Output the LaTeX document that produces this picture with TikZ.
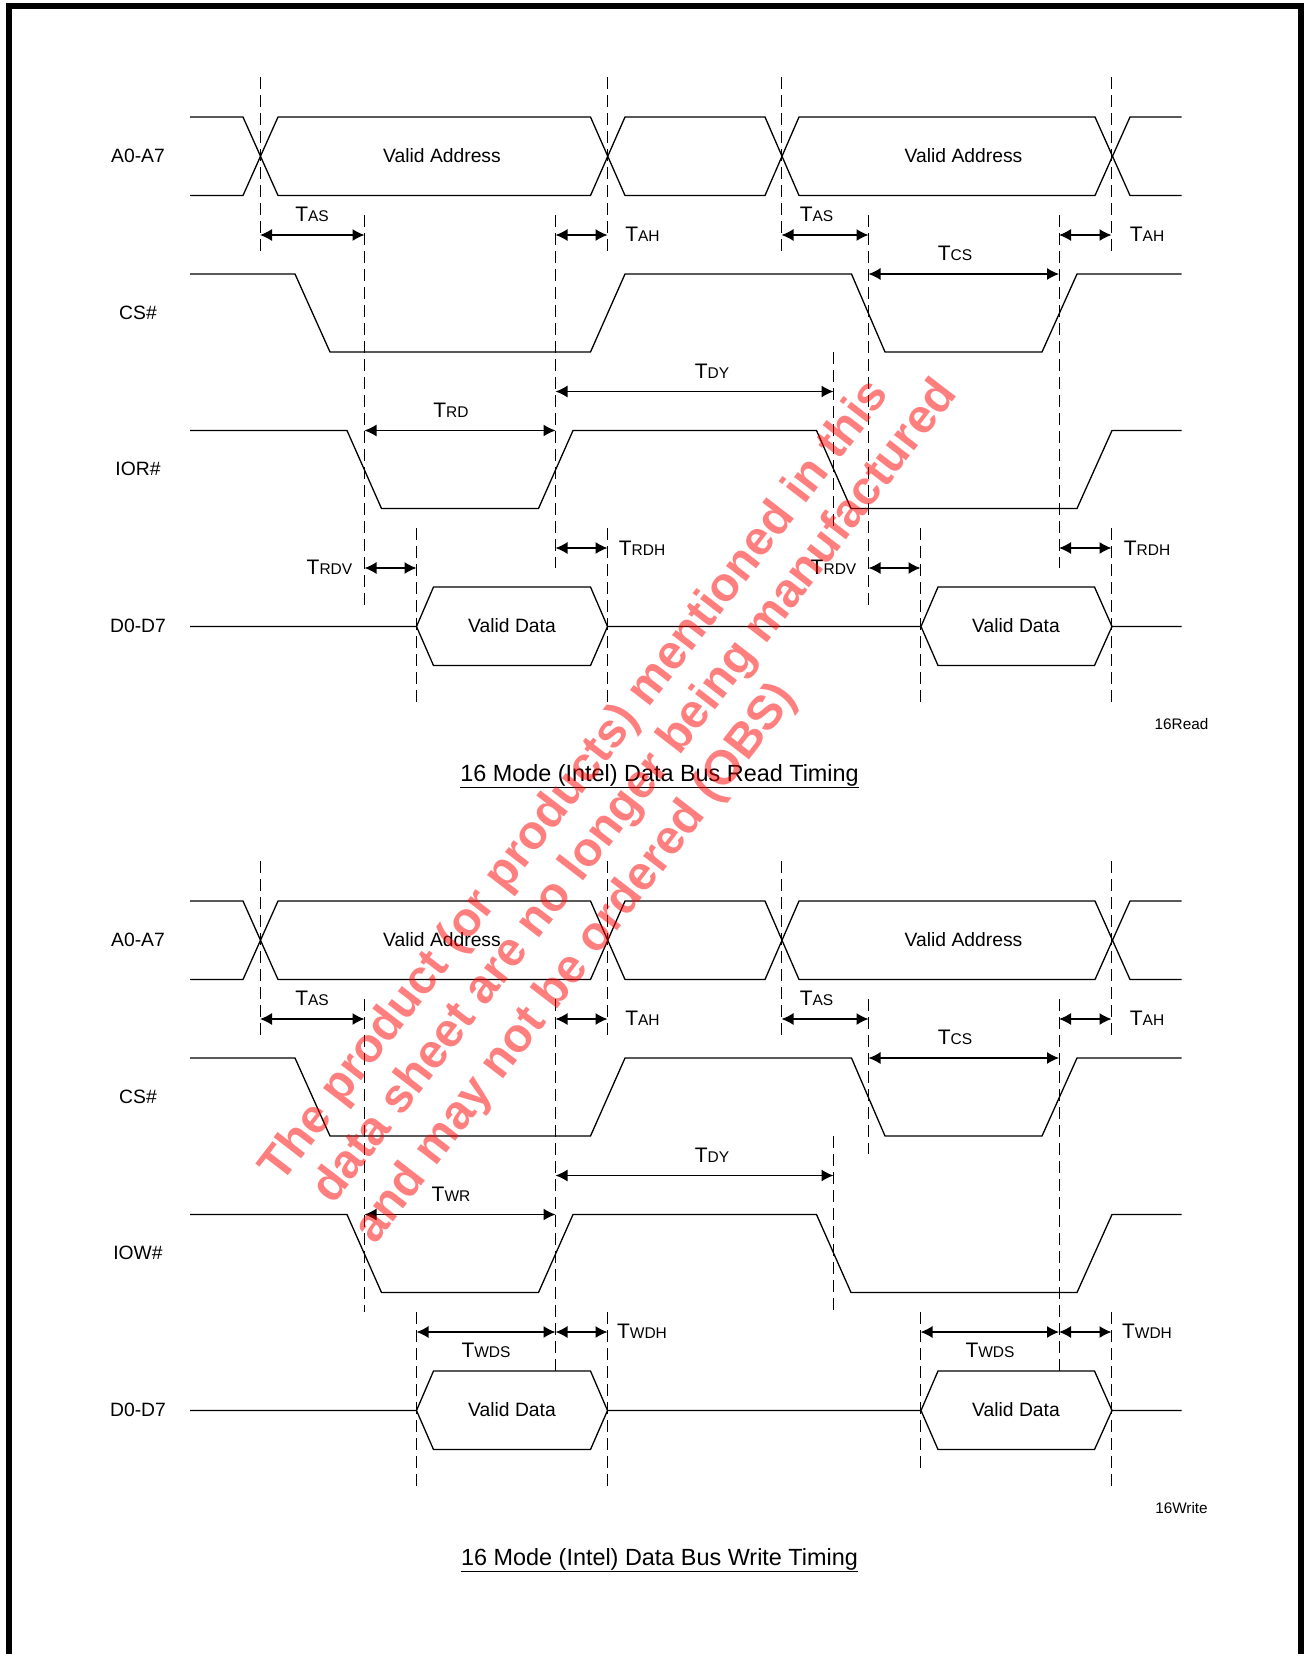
\documentclass[tikz,border=0pt]{standalone}
\usepackage{fontspec}
\setmainfont{Liberation Sans}
\usetikzlibrary{arrows.meta}
\newcommand{\Tsub}[1]{T{\fontsize{15.5}{15.5}\selectfont #1}}
\tikzset{
  wave/.style={line width=1.3pt, line join=miter},
  guide/.style={line width=1pt, dash pattern=on 12pt off 6pt},
  span/.style={line width=1.3pt, {Latex[length=12pt,width=12pt]}-{Latex[length=12pt,width=12pt]}},
  sig/.style={font=\fontsize{19.3}{19.3}\selectfont},
  tim/.style={font=\fontsize{21}{21}\selectfont},
  ttl/.style={font=\fontsize{23.4}{23.4}\selectfont},
  tag/.style={font=\fontsize{15.3}{15.3}\selectfont},
  frm/.style={fill=black},
  obs/.style={rotate=52.4, text=red, text opacity=0.5, font=\fontsize{47.9}{60}\selectfont\bfseries}
}
\begin{document}
\begin{tikzpicture}[x=1pt, y=-1pt]
      \useasboundingbox (0,0) rectangle (1304,1654);
      \fill[frm] (6,3) rectangle (12,1654);
      \fill[frm] (6,3) rectangle (1304,9);
      \fill[frm] (1298,3) rectangle (1304,1654);
      %
      % read timing
      \draw[wave] (190,117) -- (243,117) -- (278,195.5) -- (590.5,195.5) -- (625,117) -- (765,117) -- (799,195.5) -- (1095,195.5) -- (1130,117) -- (1181.5,117);
      \draw[wave] (190,195.5) -- (243,195.5) -- (278,117) -- (590.5,117) -- (625,195.5) -- (765,195.5) -- (799,117) -- (1095,117) -- (1130,195.5) -- (1181.5,195.5);
      \draw[wave] (190,274) -- (295,274) -- (330,352) -- (590.5,352) -- (625,274) -- (851.5,274) -- (885,352) -- (1042,352) -- (1077,274) -- (1181.5,274);
      \draw[wave] (190,430.5) -- (347,430.5) -- (381.5,508.5) -- (538.5,508.5) -- (573,430.5) -- (816.5,430.5) -- (851,508.5) -- (1077,508.5) -- (1112,430.5) -- (1181.5,430.5);
      \draw[wave] (190,626.5) -- (416.5,626.5) -- (433.5,587) -- (590.5,587) -- (607.5,626.5) -- (921,626.5) -- (938,587) -- (1094.5,587) -- (1112,626.5) -- (1181.5,626.5);
      \draw[wave] (416.5,626.5) -- (433.5,665.5) -- (590.5,665.5) -- (607.5,626.5);
      \draw[wave] (921,626.5) -- (938,665.5) -- (1094.5,665.5) -- (1112,626.5);
      %
      \draw[guide] (260,77) -- (260,254);
      \draw[guide] (607.5,77) -- (607.5,254);
      \draw[guide] (781.5,77) -- (781.5,254);
      \draw[guide] (1111.5,77) -- (1111.5,254);
      \draw[guide] (364.5,215) -- (364.5,607.5);
      \draw[guide] (555.5,215) -- (555.5,568);
      \draw[guide] (868.5,215) -- (868.5,607.5);
      \draw[guide] (1059,215) -- (1059,568);
      \draw[guide] (833.5,352) -- (833.5,528);
      \draw[guide] (416.5,528) -- (416.5,704);
      \draw[guide] (607.5,528) -- (607.5,704);
      \draw[guide] (920.5,528) -- (920.5,704);
      \draw[guide] (1111.5,528) -- (1111.5,704);
      %
      \draw[span] (260,235) -- (364.5,235);
      \draw[span] (555.5,235) -- (607.5,235);
      \draw[span] (781.5,235) -- (868.5,235);
      \draw[span] (1059,235) -- (1111.5,235);
      \draw[span] (868.5,274) -- (1059,274);
      \draw[span] (555.5,391.5) -- (833.5,391.5);
      \draw[span] (364.5,430.5) -- (555.5,430.5);
      \draw[span] (364.5,568) -- (416.5,568);
      \draw[span] (555.5,548) -- (607.5,548);
      \draw[span] (868.5,568) -- (920.5,568);
      \draw[span] (1059,548) -- (1111.5,548);
      %
      \draw(138,156) node[sig](addrR){A0-A7};
      \draw(138,313) node[sig](csR){CS\#};
      \draw(138,468.5) node[sig](iorR){IOR\#};
      \draw(138,626) node[sig](dataR){D0-D7};
      \draw(442,156) node[sig](vaRa){Valid Address};
      \draw(963.5,156) node[sig](vaRb){Valid Address};
      \draw(512,626) node[sig](vdRa){Valid Data};
      \draw(1016,626) node[sig](vdRb){Valid Data};
      %
      \draw(312,214.5) node[tim](tasRa){\Tsub{AS}};
      \draw(642.5,234) node[tim](tahRa){\Tsub{AH}};
      \draw(816.5,214.5) node[tim](tasRb){\Tsub{AS}};
      \draw(1147,234) node[tim](tahRb){\Tsub{AH}};
      \draw(955,253.5) node[tim](tcsR){\Tsub{CS}};
      \draw(712,371.5) node[tim](tdyR){\Tsub{DY}};
      \draw(451,410.5) node[tim](trd){\Tsub{RD}};
      \draw(329.5,567) node[tim](trdva){\Tsub{RDV}};
      \draw(642,548) node[tim](trdha){\Tsub{RDH}};
      \draw(833.5,567) node[tim](trdvb){\Tsub{RDV}};
      \draw(1147,548) node[tim](trdhb){\Tsub{RDH}};
      %
      \draw(1181.5,724) node[tag](tagR){16Read};
      \draw(659.5,776) node[ttl](ttlR){\underline{16 Mode (Intel) Data Bus Read Timing}};
      %
      % write timing
      \begin{scope}[yshift=-784pt]
      \draw[wave] (190,117) -- (243,117) -- (278,195.5) -- (590.5,195.5) -- (625,117) -- (765,117) -- (799,195.5) -- (1095,195.5) -- (1130,117) -- (1181.5,117);
      \draw[wave] (190,195.5) -- (243,195.5) -- (278,117) -- (590.5,117) -- (625,195.5) -- (765,195.5) -- (799,117) -- (1095,117) -- (1130,195.5) -- (1181.5,195.5);
      \draw[wave] (190,274) -- (295,274) -- (330,352) -- (590.5,352) -- (625,274) -- (851.5,274) -- (885,352) -- (1042,352) -- (1077,274) -- (1181.5,274);
      \draw[wave] (190,430.5) -- (347,430.5) -- (381.5,508.5) -- (538.5,508.5) -- (573,430.5) -- (816.5,430.5) -- (851,508.5) -- (1077,508.5) -- (1112,430.5) -- (1181.5,430.5);
      \draw[wave] (190,626.5) -- (416.5,626.5) -- (433.5,587) -- (590.5,587) -- (607.5,626.5) -- (921,626.5) -- (938,587) -- (1094.5,587) -- (1112,626.5) -- (1181.5,626.5);
      \draw[wave] (416.5,626.5) -- (433.5,665.5) -- (590.5,665.5) -- (607.5,626.5);
      \draw[wave] (921,626.5) -- (938,665.5) -- (1094.5,665.5) -- (1112,626.5);
      %
      \draw[guide] (260,77) -- (260,254);
      \draw[guide] (607.5,77) -- (607.5,254);
      \draw[guide] (781.5,77) -- (781.5,254);
      \draw[guide] (1111.5,77) -- (1111.5,254);
      \draw[guide] (364.5,215) -- (364.5,528);
      \draw[guide] (555.5,215) -- (555.5,587);
      \draw[guide] (868.5,215) -- (868.5,370);
      \draw[guide] (1059,215) -- (1059,587);
      \draw[guide] (833.5,352) -- (833.5,528);
      \draw[guide] (416.5,528) -- (416.5,704);
      \draw[guide] (607.5,528) -- (607.5,704);
      \draw[guide] (920.5,528) -- (920.5,684);
      \draw[guide] (1111.5,528) -- (1111.5,704);
      %
      \draw[span] (260,235) -- (364.5,235);
      \draw[span] (555.5,235) -- (607.5,235);
      \draw[span] (781.5,235) -- (868.5,235);
      \draw[span] (1059,235) -- (1111.5,235);
      \draw[span] (868.5,274) -- (1059,274);
      \draw[span] (555.5,391.5) -- (833.5,391.5);
      \draw[span] (364.5,430.5) -- (555.5,430.5);
      \draw[span] (416.5,548) -- (555.5,548);
      \draw[span] (555.5,548) -- (607.5,548);
      \draw[span] (920.5,548) -- (1059,548);
      \draw[span] (1059,548) -- (1111.5,548);
      %
      \draw(138,156) node[sig](addrW){A0-A7};
      \draw(138,313) node[sig](csW){CS\#};
      \draw(138,468.5) node[sig](iow){IOW\#};
      \draw(138,626) node[sig](dataW){D0-D7};
      \draw(442,156) node[sig](vaWa){Valid Address};
      \draw(963.5,156) node[sig](vaWb){Valid Address};
      \draw(512,626) node[sig](vdWa){Valid Data};
      \draw(1016,626) node[sig](vdWb){Valid Data};
      %
      \draw(312,214.5) node[tim](tasWa){\Tsub{AS}};
      \draw(642.5,234) node[tim](tahWa){\Tsub{AH}};
      \draw(816.5,214.5) node[tim](tasWb){\Tsub{AS}};
      \draw(1147,234) node[tim](tahWb){\Tsub{AH}};
      \draw(955,253.5) node[tim](tcsW){\Tsub{CS}};
      \draw(712,371.5) node[tim](tdyW){\Tsub{DY}};
      \draw(451,410) node[tim](twr){\Tsub{WR}};
      \draw(486,566.5) node[tim](twdsa){\Tsub{WDS}};
      \draw(642,547) node[tim](twdha){\Tsub{WDH}};
      \draw(990,566.5) node[tim](twdsb){\Tsub{WDS}};
      \draw(1147,547) node[tim](twdhb){\Tsub{WDH}};
      %
      \draw(1181.5,724) node[tag](tagW){16Write};
      \draw(659.5,776) node[ttl](ttlW){\underline{16 Mode (Intel) Data Bus Write Timing}};
      \end{scope}
      %
      % stamp over the page
      \draw(576,782) node[obs](obsa){The product (or products) mentioned in this};
      \draw(636,792.5) node[obs](obsb){data sheet are no longer being manufactured};
      \draw(576.5,964) node[obs](obsc){and may not be ordered (OBS)};
      %
    \end{tikzpicture}
\end{document}
